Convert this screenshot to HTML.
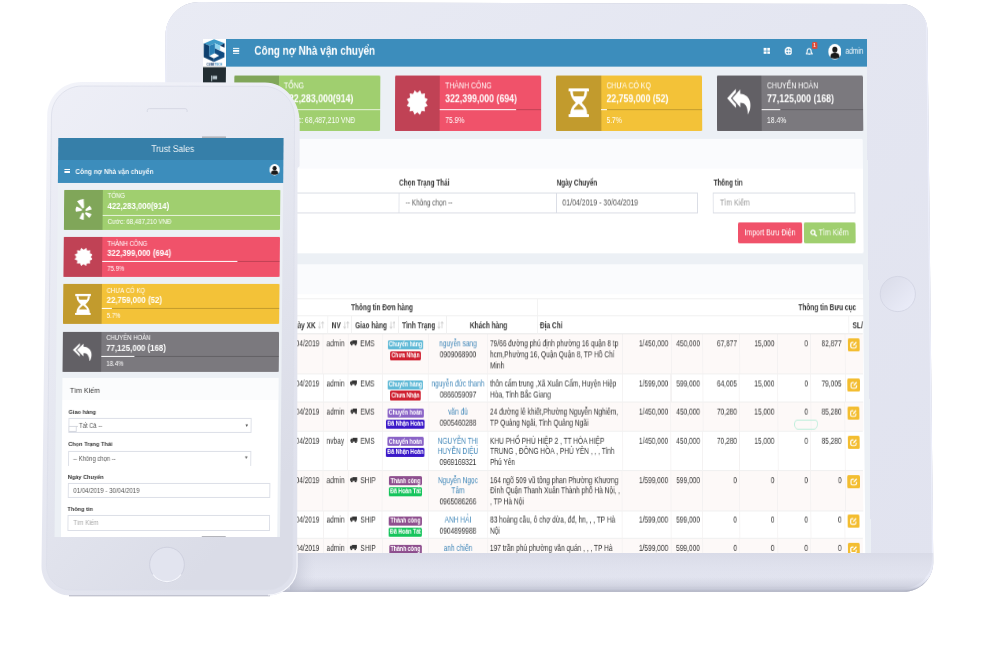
<!DOCTYPE html>
<html><head><meta charset="utf-8"><title>Trust Sales</title>
<style>
html,body{margin:0;padding:0;}
body{width:1000px;height:653px;background:#fff;position:relative;overflow:hidden;font-family:"Liberation Sans",sans-serif;}
div{box-sizing:border-box;}
svg{display:block;}
</style></head><body>
<svg style="position:absolute;left:0;top:0" width="1000" height="653" viewBox="0 0 1000 653">
<defs>
<clipPath id="tc"><path d="M165.61 35.00 C165.82 16.77 180.77 2.04 199.00 2.10 L901.20 4.12 C915.56 4.17 927.33 15.84 927.48 30.20 L933.27 561.80 C933.45 578.37 920.17 591.80 903.60 591.80 L189.00 591.80 C172.43 591.80 159.16 578.37 159.36 561.80 Z"/></clipPath>
<linearGradient id="tg" x1="0" y1="0" x2="1" y2="1">
<stop offset="0" stop-color="#e9ebf4"/><stop offset="0.45" stop-color="#e4e6f1"/><stop offset="1" stop-color="#e1e3ef"/>
</linearGradient>
<linearGradient id="tsh" x1="0" y1="0" x2="0" y2="1"><stop offset="0" stop-color="#d3d5e2" stop-opacity="1"/><stop offset="1" stop-color="#e2e4ee" stop-opacity="0"/></linearGradient>
<linearGradient id="tbot" x1="0" y1="0" x2="0" y2="1"><stop offset="0" stop-color="#b4b7c7" stop-opacity="0"/><stop offset="0.6" stop-color="#b4b7c7" stop-opacity="0.35"/><stop offset="1" stop-color="#b0b3c3" stop-opacity="0.95"/></linearGradient>
<linearGradient id="psh" x1="0" y1="0" x2="1" y2="0"><stop offset="0" stop-color="#b9bccb" stop-opacity="0.75"/><stop offset="1" stop-color="#d6d8e5" stop-opacity="0"/></linearGradient>
<linearGradient id="hb" x1="0" y1="0" x2="1" y2="1"><stop offset="0" stop-color="#d9dbe8"/><stop offset="1" stop-color="#eceefa"/></linearGradient>
</defs>
<path d="M165.61 35.00 C165.82 16.77 180.77 2.04 199.00 2.10 L901.20 4.12 C915.56 4.17 927.33 15.84 927.48 30.20 L933.27 561.80 C933.45 578.37 920.17 591.80 903.60 591.80 L189.00 591.80 C172.43 591.80 159.16 578.37 159.36 561.80 Z" fill="#b9bccb"/>
<g clip-path="url(#tc)"><path d="M165.61 35.00 C165.82 16.77 180.77 2.04 199.00 2.10 L901.20 4.12 C915.56 4.17 927.33 15.84 927.48 30.20 L933.27 561.80 C933.45 578.37 920.17 591.80 903.60 591.80 L189.00 591.80 C172.43 591.80 159.16 578.37 159.36 561.80 Z" transform="translate(0,-2.4)" fill="url(#tg)" stroke="#eceefa" stroke-width="2.6"/></g>
<g clip-path="url(#tc)"><rect x="150" y="553" width="800" height="30" fill="url(#tsh)" opacity="0.6"/><rect x="150" y="577" width="800" height="15" fill="url(#tbot)"/><rect x="290" y="553" width="26" height="40" fill="url(#psh)"/></g>
<circle cx="897.8" cy="294" r="17.6" fill="url(#hb)" stroke="#d3d5e3" stroke-width="0.9"/>
</svg>
<div style="position:absolute;left:0;top:0;width:850.00px;height:514.00px;overflow:hidden;background:#ecf0f5;transform-origin:0 0;transform:matrix3d(0.78,0,0,9.9104367e-21,-0.01432393,0.98559095,0,-2.6056142e-05,0,0,1,0,203.5,39,0,1);">
<div style="position:absolute;left:0.00px;top:0.00px;width:28.85px;height:514.00px;background:#222d32;"></div>
<div style="position:absolute;left:0.00px;top:0.00px;width:29.10px;height:28.56px;"><svg width="100%" height="100%" viewBox="0 0 430 545" preserveAspectRatio="none">
<rect width="430" height="545" fill="#fff"/>
<polygon points="10,85 200,5 400,80 315,130 220,85 110,130" fill="#3f9bc9"/>
<polygon points="10,85 110,130 110,330 200,375 200,445 10,355" fill="#0e3f6e"/>
<polygon points="110,130 220,85 220,275 200,280 110,330" fill="#2a7fb5"/>
<polygon points="220,85 315,130 315,215 220,180" fill="#8fd3ee"/>
<polygon points="315,130 400,80 400,165" fill="#0a2f5a"/>
<polygon points="220,180 400,265 400,355 200,445 200,375 300,325 220,275" fill="#114b80"/>
</svg></div>
<div style="position:absolute;left:14.26px;width:0;display:flex;justify-content:center;top:24.65px;height:3.60px;"><span style="white-space:nowrap;font-size:3.60px;line-height:1;color:#12396b;font-weight:bold;">CUBE<span style="color:#3f8fc4">TECH</span></span></div>
<div style="position:absolute;left:10.04px;top:37.36px;width:8.33px;height:5.66px;"><svg width="100%" height="100%" viewBox="0 0 10 10" preserveAspectRatio="none"><rect x="0" y="0" width="1.6" height="10" fill="#b8c7ce"/><rect x="2.6" y="0.6" width="7" height="6" fill="#b8c7ce"/></svg></div>
<div style="position:absolute;left:29.10px;top:0.00px;width:821.54px;height:27.95px;background:#3c8dbc;"></div>
<div style="position:absolute;left:38.17px;top:8.71px;width:8.20px;height:1.42px;background:#fff;"></div>
<div style="position:absolute;left:38.20px;top:11.25px;width:8.20px;height:1.42px;background:#fff;"></div>
<div style="position:absolute;left:38.22px;top:13.78px;width:8.20px;height:1.42px;background:#fff;"></div>
<div style="position:absolute;left:65.34px;top:6.44px;white-space:nowrap;font-size:12.80px;line-height:1;color:#fff;font-weight:bold;">Công nợ Nhà vận chuyển</div>
<div style="position:absolute;left:718.01px;top:9.12px;width:8.20px;height:6.28px;"><svg width="100%" height="100%" viewBox="0 0 10 10" preserveAspectRatio="none"><g fill="#fff"><rect x="0" y="0" width="4.4" height="4.4"/><rect x="5.6" y="0" width="4.4" height="4.4"/><rect x="0" y="5.6" width="4.4" height="4.4"/><rect x="5.6" y="5.6" width="4.4" height="4.4"/></g></svg></div>
<div style="position:absolute;left:744.68px;top:7.90px;width:9.74px;height:8.51px;"><svg width="100%" height="100%" viewBox="0 0 20 20" preserveAspectRatio="none"><circle cx="10" cy="10" r="8.2" fill="none" stroke="#fff" stroke-width="4"/><path d="M10 1v18M1 10h18" stroke="#fff" stroke-width="3"/></svg></div>
<div style="position:absolute;left:772.36px;top:8.71px;width:8.97px;height:7.70px;"><svg width="100%" height="100%" viewBox="0 0 20 22" preserveAspectRatio="none"><path d="M10 2 C5 2 4.5 7 4.5 10 C4.5 14 2.5 15 1.5 17 H18.5 C17.5 15 15.5 14 15.5 10 C15.5 7 15 2 10 2 Z" fill="none" stroke="#fff" stroke-width="3"/><circle cx="10" cy="19.5" r="2.4" fill="#fff"/></svg></div>
<div style="position:absolute;left:779.85px;top:3.04px;width:6.92px;height:6.89px;background:#dd4b39;border-radius:1.5px;"></div>
<div style="position:absolute;left:783.29px;width:0;display:flex;justify-content:center;top:3.76px;height:5.40px;"><span style="white-space:nowrap;font-size:5.40px;line-height:1;color:#fff;font-weight:bold;">1</span></div>
<div style="position:absolute;left:800.59px;top:5.07px;width:16.66px;height:15.80px;"><svg width="100%" height="100%" viewBox="0 0 30 30" preserveAspectRatio="none"><circle cx="15" cy="15" r="15" fill="#fff"/><circle cx="15" cy="11" r="5.8" fill="#1a1a1a"/><path d="M4.5 26 C4.5 18.5 9 17 15 17 C21 17 25.5 18.5 25.5 26 C22 29 8 29 4.5 26Z" fill="#1a1a1a"/></svg></div>
<div style="position:absolute;left:823.12px;top:7.94px;white-space:nowrap;font-size:8.30px;line-height:1;color:#fff;font-weight:normal;">admin</div>
<div style="position:absolute;left:39.50px;top:37.47px;width:187.00px;height:55.15px;background:#a0cf6f;border-radius:1.5px;"></div>
<div style="position:absolute;left:39.50px;top:37.47px;width:57.12px;height:55.15px;background:#80a659;border-radius:1.5px 0 0 1.5px;"></div>
<div style="position:absolute;left:54.99px;top:49.60px;width:25.61px;height:30.30px;"><svg width="100%" height="100%" viewBox="0 0 20 24" preserveAspectRatio="none"><g fill="#fff">
<path d="M2.200 2.600 Q5.800 0.400 10 0 L10.600 9.800 Q9.600 11.800 8.200 10.400 Z"/>
<path d="M0.600 11.500 Q1 9.500 2 8.600 L8 11.800 Q8.600 13.500 7 13.800 L1 14.500 Q0.400 13 0.600 11.500Z"/>
<path d="M12.500 11.600 L17 7.600 Q19 9.500 19.500 12 L13.200 13.600 Q11.500 13.200 12.500 11.600Z"/>
<path d="M13 15.200 L19.300 17 Q18.800 20 16.600 21.800 L12 17 Q11.600 15.300 13 15.200Z"/>
<path d="M8.600 15.800 Q10.300 15.600 10.500 17 L10.300 24 Q7.500 23.800 5.200 22.200 L8.600 15.800Z"/></g></svg></div>
<div style="position:absolute;left:103.59px;top:42.58px;white-space:nowrap;font-size:8.90px;line-height:1;color:#fff;font-weight:normal;">TỔNG</div>
<div style="position:absolute;left:103.70px;top:54.71px;white-space:nowrap;font-size:11.25px;line-height:1;color:#fff;font-weight:bold;">422,283,000(914)</div>
<div style="position:absolute;left:96.92px;top:70.62px;width:129.76px;height:1.41px;background:rgba(255,255,255,0.75);"></div>
<div style="position:absolute;left:103.91px;top:78.07px;white-space:nowrap;font-size:8.70px;line-height:1;color:#fff;font-weight:normal;">Cước: 68,487,210 VNĐ</div>
<div style="position:absolute;left:245.71px;top:37.47px;width:187.00px;height:55.15px;background:#f0526a;border-radius:1.5px;"></div>
<div style="position:absolute;left:245.71px;top:37.47px;width:57.38px;height:55.15px;background:#c04255;border-radius:1.5px 0 0 1.5px;"></div>
<div style="position:absolute;left:260.89px;top:51.93px;width:26.76px;height:24.65px;"><svg width="100%" height="100%" viewBox="0 0 20 20" preserveAspectRatio="none"><polygon points="12.59,0.34 13.85,3.33 17.07,2.93 16.67,6.15 19.66,7.41 17.70,10.00 19.66,12.59 16.67,13.85 17.07,17.07 13.85,16.67 12.59,19.66 10.00,17.70 7.41,19.66 6.15,16.67 2.93,17.07 3.33,13.85 0.34,12.59 2.30,10.00 0.34,7.41 3.33,6.15 2.93,2.93 6.15,3.33 7.41,0.34 10.00,2.30" fill="#fff" stroke="#fff" stroke-width="0.5" stroke-linejoin="round"/></svg></div>
<div style="position:absolute;left:310.02px;top:42.58px;white-space:nowrap;font-size:8.90px;line-height:1;color:#fff;font-weight:normal;">THÀNH CÔNG</div>
<div style="position:absolute;left:310.07px;top:54.71px;white-space:nowrap;font-size:11.25px;line-height:1;color:#fff;font-weight:bold;">322,399,000 (694)</div>
<div style="position:absolute;left:303.21px;top:70.62px;width:129.50px;height:1.41px;background:rgba(0,0,0,0.2);"></div>
<div style="position:absolute;left:303.21px;top:70.62px;width:98.29px;height:1.41px;background:#fff;"></div>
<div style="position:absolute;left:310.15px;top:78.07px;white-space:nowrap;font-size:8.70px;line-height:1;color:#fff;font-weight:normal;">75.9%</div>
<div style="position:absolute;left:452.43px;top:37.47px;width:186.48px;height:55.15px;background:#f3c238;border-radius:1.5px;"></div>
<div style="position:absolute;left:452.43px;top:37.47px;width:57.12px;height:55.15px;background:#c29b2d;border-radius:1.5px 0 0 1.5px;"></div>
<div style="position:absolute;left:467.53px;top:49.70px;width:25.99px;height:28.89px;"><svg width="100%" height="100%" viewBox="0 0 20 28" preserveAspectRatio="none"><g fill="#fff"><rect x="0" y="0" width="20" height="3" rx="0.6"/><rect x="0" y="25.200" width="20" height="2.800" rx="0.6"/>
<path d="M1.700 3 H18.300 C18.300 9 15 11.500 13 14 C15 16.500 18.300 19 18.300 25.200 H1.700 C1.700 19 5 16.500 7 14 C5 11.500 1.700 9 1.700 3 Z M4.200 3 H15.800 C15.700 5 15.300 6.500 14.800 7.700 H5.200 C4.700 6.500 4.300 5 4.200 3 Z M10 15 C11.500 16.500 14 18.500 15 20.800 H5 C6 18.500 8.500 16.500 10 15 Z" fill-rule="evenodd"/></g></svg></div>
<div style="position:absolute;left:516.46px;top:42.58px;white-space:nowrap;font-size:8.90px;line-height:1;color:#fff;font-weight:normal;">CHƯA CÓ KQ</div>
<div style="position:absolute;left:516.43px;top:54.71px;white-space:nowrap;font-size:11.25px;line-height:1;color:#fff;font-weight:bold;">22,759,000 (52)</div>
<div style="position:absolute;left:509.49px;top:70.62px;width:129.25px;height:1.41px;background:rgba(0,0,0,0.2);"></div>
<div style="position:absolute;left:509.49px;top:70.62px;width:7.37px;height:1.41px;background:#fff;"></div>
<div style="position:absolute;left:516.39px;top:78.07px;white-space:nowrap;font-size:8.70px;line-height:1;color:#fff;font-weight:normal;">5.7%</div>
<div style="position:absolute;left:658.12px;top:37.47px;width:187.00px;height:55.15px;background:#7b797e;border-radius:1.5px;"></div>
<div style="position:absolute;left:658.12px;top:37.47px;width:57.12px;height:55.15px;background:#626065;border-radius:1.5px 0 0 1.5px;"></div>
<div style="position:absolute;left:671.24px;top:50.11px;width:30.99px;height:26.47px;"><svg width="100%" height="100%" viewBox="0 0 24 26" preserveAspectRatio="none"><g fill="#fff">
<path d="M13 0.900 L5.200 9.800 L13 19 V14.200 C17.500 14.200 20 17 20.600 26 C24.500 19 24.500 6.200 13 5.400 Z"/>
<path d="M8.600 0.400 L0 9.800 L8.600 19.300 V15.600 L3.700 9.800 L8.600 4 Z"/></g></svg></div>
<div style="position:absolute;left:722.12px;top:42.58px;white-space:nowrap;font-size:8.90px;line-height:1;color:#fff;font-weight:normal;">CHUYỂN HOÀN</div>
<div style="position:absolute;left:722.03px;top:54.71px;white-space:nowrap;font-size:11.25px;line-height:1;color:#fff;font-weight:bold;">77,125,000 (168)</div>
<div style="position:absolute;left:715.01px;top:70.62px;width:129.76px;height:1.41px;background:rgba(0,0,0,0.2);"></div>
<div style="position:absolute;left:715.01px;top:70.62px;width:23.88px;height:1.41px;background:#fff;"></div>
<div style="position:absolute;left:721.86px;top:78.07px;white-space:nowrap;font-size:8.70px;line-height:1;color:#fff;font-weight:normal;">18.4%</div>
<div style="position:absolute;left:40.17px;top:101.09px;width:804.29px;height:114.60px;background:#fff;border-radius:2px;"></div>
<div style="position:absolute;left:40.17px;top:101.09px;width:804.29px;height:30.22px;background:#fafbfd;border-radius:2px 2px 0 0;"></div>
<div style="position:absolute;left:251.61px;top:141.63px;white-space:nowrap;font-size:8.15px;line-height:1;color:#333;font-weight:bold;">Chọn Trạng Thái</div>
<div style="position:absolute;left:452.66px;top:141.63px;white-space:nowrap;font-size:8.15px;line-height:1;color:#333;font-weight:bold;">Ngày Chuyển</div>
<div style="position:absolute;left:653.19px;top:141.63px;white-space:nowrap;font-size:8.15px;line-height:1;color:#333;font-weight:bold;">Thông tin</div>
<div style="position:absolute;left:50.83px;top:141.63px;white-space:nowrap;font-size:8.15px;line-height:1;color:#333;font-weight:bold;">Giao hàng</div>
<div style="position:absolute;left:50.95px;top:155.06px;width:201.11px;height:20.70px;border:1px solid #dadde5;background:#fff;"></div>
<div style="position:absolute;left:251.04px;top:155.06px;width:201.75px;height:20.70px;border:1px solid #dadde5;background:#fff;"></div>
<div style="position:absolute;left:451.76px;top:155.06px;width:181.19px;height:20.70px;border:1px solid #dadde5;background:#fff;"></div>
<div style="position:absolute;left:652.10px;top:155.06px;width:181.83px;height:20.70px;border:1px solid #dadde5;background:#fff;"></div>
<div style="position:absolute;left:58.69px;top:161.24px;white-space:nowrap;font-size:8.90px;line-height:1;color:#555;font-weight:normal;">-- Tất Cả --</div>
<div style="position:absolute;left:259.88px;top:161.24px;white-space:nowrap;font-size:8.90px;line-height:1;color:#555;font-weight:normal;transform:scaleX(0.930);transform-origin:0 0;">-- Không chọn --</div>
<div style="position:absolute;left:460.06px;top:161.24px;white-space:nowrap;font-size:8.90px;line-height:1;color:#555;font-weight:normal;">01/04/2019 - 30/04/2019</div>
<div style="position:absolute;left:661.26px;top:161.24px;white-space:nowrap;font-size:8.90px;line-height:1;color:#999;font-weight:normal;">Tìm Kiếm</div>
<div style="position:absolute;left:684.09px;top:184.99px;width:81.66px;height:20.67px;background:#f0526a;border-radius:1.8px;"></div>
<div style="position:absolute;left:724.87px;width:0;display:flex;justify-content:center;top:190.76px;height:8.90px;"><span style="white-space:nowrap;font-size:8.90px;line-height:1;color:#fff;font-weight:normal;">Import Bưu Điện</span></div>
<div style="position:absolute;left:768.30px;top:184.99px;width:65.32px;height:20.67px;background:#a0cf6f;border-radius:1.8px;"></div>
<div style="position:absolute;left:775.64px;top:191.82px;width:8.93px;height:7.42px;"><svg width="100%" height="100%" viewBox="0 0 20 20" preserveAspectRatio="none"><circle cx="8" cy="8" r="5.800" fill="none" stroke="#fff" stroke-width="3.4"/><path d="M12.500 12.500 L18.500 18.500" stroke="#fff" stroke-width="3.800" stroke-linecap="round"/></svg></div>
<div style="position:absolute;left:787.12px;top:190.76px;white-space:nowrap;font-size:8.90px;line-height:1;color:#fff;font-weight:normal;">Tìm Kiếm</div>
<div style="position:absolute;left:41.50px;top:227.21px;width:801.64px;height:293.70px;background:#fff;border-radius:2px 2px 0 0;"></div>
<div style="position:absolute;left:41.50px;top:227.21px;width:801.64px;height:30.12px;background:#fafbfd;border-radius:2px 2px 0 0;"></div>
<div style="position:absolute;left:41.85px;top:260.73px;width:800.93px;height:0.90px;background:#f0f0f0;"></div>
<div style="position:absolute;left:42.04px;top:278.32px;width:800.56px;height:0.90px;background:#f0f0f0;"></div>
<div style="position:absolute;left:42.23px;top:296.09px;width:800.19px;height:1.20px;background:#e8e8e8;"></div>
<div style="position:absolute;left:427.93px;top:261.13px;width:1.02px;height:35.56px;background:#f0f0f0;"></div>
<div style="position:absolute;left:230.35px;width:0;display:flex;justify-content:center;top:266.56px;height:8.25px;"><span style="white-space:nowrap;font-size:8.25px;line-height:1;color:#333;font-weight:bold;">Thông tin Đơn hàng</span></div>
<div style="position:absolute;right:16.20px;top:266.56px;white-space:nowrap;font-size:8.25px;line-height:1;color:#333;font-weight:bold;">Thông tin Bưu cục</div>
<div style="position:absolute;left:160.66px;top:278.72px;width:1.02px;height:17.97px;background:#f0f0f0;"></div>
<div style="position:absolute;left:191.21px;top:278.72px;width:1.02px;height:17.97px;background:#f0f0f0;"></div>
<div style="position:absolute;left:250.77px;top:278.72px;width:1.02px;height:17.97px;background:#f0f0f0;"></div>
<div style="position:absolute;left:312.12px;top:278.72px;width:1.02px;height:17.97px;background:#f0f0f0;"></div>
<div style="position:absolute;left:823.76px;top:278.72px;width:1.02px;height:17.97px;background:#f0f0f0;"></div>
<div style="position:absolute;right:704.06px;top:283.53px;white-space:nowrap;font-size:8.30px;line-height:1;color:#333;font-weight:bold;">Ngày XK</div>
<div style="position:absolute;left:148.74px;top:284.31px;width:7.89px;height:7.59px;"><svg width="100%" height="100%" viewBox="0 0 12 14" preserveAspectRatio="none"><g stroke="#cfcfcf" stroke-width="1.5" fill="none"><path d="M3 1 V13 M0.500 10 L3 13 L5.500 10"/><path d="M9 13 V1 M6.500 4 L9 1 L11.500 4"/></g></svg></div>
<div style="position:absolute;right:671.99px;top:283.53px;white-space:nowrap;font-size:8.30px;line-height:1;color:#333;font-weight:bold;">NV</div>
<div style="position:absolute;left:180.81px;top:284.31px;width:7.89px;height:7.59px;"><svg width="100%" height="100%" viewBox="0 0 12 14" preserveAspectRatio="none"><g stroke="#cfcfcf" stroke-width="1.5" fill="none"><path d="M3 1 V13 M0.500 10 L3 13 L5.500 10"/><path d="M9 13 V1 M6.500 4 L9 1 L11.500 4"/></g></svg></div>
<div style="position:absolute;right:613.20px;top:283.53px;white-space:nowrap;font-size:8.30px;line-height:1;color:#333;font-weight:bold;">Giao hàng</div>
<div style="position:absolute;left:239.60px;top:284.31px;width:7.89px;height:7.59px;"><svg width="100%" height="100%" viewBox="0 0 12 14" preserveAspectRatio="none"><g stroke="#cfcfcf" stroke-width="1.5" fill="none"><path d="M3 1 V13 M0.500 10 L3 13 L5.500 10"/><path d="M9 13 V1 M6.500 4 L9 1 L11.500 4"/></g></svg></div>
<div style="position:absolute;right:551.61px;top:283.53px;white-space:nowrap;font-size:8.30px;line-height:1;color:#333;font-weight:bold;">Tình Trạng</div>
<div style="position:absolute;left:301.19px;top:284.31px;width:7.89px;height:7.59px;"><svg width="100%" height="100%" viewBox="0 0 12 14" preserveAspectRatio="none"><g stroke="#cfcfcf" stroke-width="1.5" fill="none"><path d="M3 1 V13 M0.500 10 L3 13 L5.500 10"/><path d="M9 13 V1 M6.500 4 L9 1 L11.500 4"/></g></svg></div>
<div style="position:absolute;left:366.09px;width:0;display:flex;justify-content:center;top:283.53px;height:8.30px;"><span style="white-space:nowrap;font-size:8.30px;line-height:1;color:#333;font-weight:bold;">Khách hàng</span></div>
<div style="position:absolute;left:431.50px;top:283.53px;white-space:nowrap;font-size:8.30px;line-height:1;color:#333;font-weight:bold;">Địa Chỉ</div>
<div style="position:absolute;left:829.30px;top:283.53px;white-space:nowrap;font-size:8.30px;line-height:1;color:#333;font-weight:bold;">SL/</div>
<div style="position:absolute;left:42.23px;top:296.89px;width:800.17px;height:39.88px;background:#fdf9f8;"></div>
<div style="position:absolute;left:42.65px;top:336.37px;width:799.34px;height:0.80px;background:#f0f0f0;"></div>
<div style="position:absolute;left:155.45px;top:296.89px;width:1.02px;height:39.88px;background:#f3f1f1;"></div>
<div style="position:absolute;left:186.75px;top:296.89px;width:1.02px;height:39.88px;background:#f3f1f1;"></div>
<div style="position:absolute;left:230.51px;top:296.89px;width:1.02px;height:39.88px;background:#f3f1f1;"></div>
<div style="position:absolute;left:289.28px;top:296.89px;width:1.02px;height:39.88px;background:#f3f1f1;"></div>
<div style="position:absolute;left:364.34px;top:296.89px;width:1.02px;height:39.88px;background:#f3f1f1;"></div>
<div style="position:absolute;left:535.82px;top:296.89px;width:1.02px;height:39.88px;background:#f3f1f1;"></div>
<div style="position:absolute;left:597.65px;top:296.89px;width:1.02px;height:39.88px;background:#f3f1f1;"></div>
<div style="position:absolute;left:637.85px;top:296.89px;width:1.02px;height:39.88px;background:#f3f1f1;"></div>
<div style="position:absolute;left:684.66px;top:296.89px;width:1.02px;height:39.88px;background:#f3f1f1;"></div>
<div style="position:absolute;left:733.26px;top:296.89px;width:1.02px;height:39.88px;background:#f3f1f1;"></div>
<div style="position:absolute;left:775.24px;top:296.89px;width:1.02px;height:39.88px;background:#f3f1f1;"></div>
<div style="position:absolute;left:819.00px;top:296.89px;width:1.02px;height:39.88px;background:#f3f1f1;"></div>
<div style="position:absolute;right:699.08px;top:301.99px;white-space:nowrap;font-size:8.35px;line-height:1;color:#333;font-weight:normal;">30/04/2019</div>
<div style="position:absolute;left:160.08px;top:301.99px;white-space:nowrap;font-size:8.35px;line-height:1;color:#333;font-weight:normal;">admin</div>
<div style="position:absolute;left:190.10px;top:303.48px;width:8.90px;height:5.39px;"><svg width="100%" height="100%" viewBox="0 0 14 10" preserveAspectRatio="none"><g fill="#333"><rect x="4.500" y="0" width="9.500" height="7"/><path d="M0 7 V3.500 L2 1.200 H4.500 V7 Z"/><circle cx="3.200" cy="8" r="1.900"/><circle cx="10.800" cy="8" r="1.900"/></g></svg></div>
<div style="position:absolute;left:203.07px;top:301.99px;white-space:nowrap;font-size:8.35px;line-height:1;color:#333;font-weight:normal;">EMS</div>
<div style="position:absolute;left:237.54px;top:302.68px;width:45.79px;height:9.18px;background:#5fb9d6;border-radius:1.6px;"></div>
<div style="position:absolute;left:260.44px;width:0;display:flex;justify-content:center;top:304.00px;height:6.70px;"><span style="white-space:nowrap;font-size:6.70px;line-height:1;color:#fff;font-weight:bold;">Chuyển hàng</span></div>
<div style="position:absolute;left:240.78px;top:313.65px;width:39.42px;height:9.17px;background:#cf2030;border-radius:1.6px;"></div>
<div style="position:absolute;left:260.50px;width:0;display:flex;justify-content:center;top:314.97px;height:6.70px;"><span style="white-space:nowrap;font-size:6.70px;line-height:1;color:#fff;font-weight:bold;">Chưa Nhận</span></div>
<div style="position:absolute;left:327.21px;width:0;display:flex;justify-content:center;top:301.99px;height:8.35px;"><span style="white-space:nowrap;font-size:8.35px;line-height:1;color:#3f86b8;font-weight:normal;">nguyễn sang</span></div>
<div style="position:absolute;left:327.24px;width:0;display:flex;justify-content:center;top:312.76px;height:8.35px;"><span style="white-space:nowrap;font-size:8.35px;line-height:1;color:#333;font-weight:normal;">0909068900</span></div>
<div style="position:absolute;left:367.91px;top:301.99px;white-space:nowrap;font-size:8.35px;line-height:1;color:#333;font-weight:normal;">79/66 đường phú định phường 16 quận 8 tp</div>
<div style="position:absolute;left:367.93px;top:312.76px;white-space:nowrap;font-size:8.35px;line-height:1;color:#333;font-weight:normal;">hcm,Phường 16, Quận Quận 8, TP Hồ Chí</div>
<div style="position:absolute;left:367.96px;top:323.53px;white-space:nowrap;font-size:8.35px;line-height:1;color:#333;font-weight:normal;">Minh</div>
<div style="position:absolute;right:255.43px;top:301.99px;white-space:nowrap;font-size:8.35px;line-height:1;color:#333;font-weight:normal;">1/450,000</div>
<div style="position:absolute;right:214.98px;top:301.99px;white-space:nowrap;font-size:8.35px;line-height:1;color:#333;font-weight:normal;">450,000</div>
<div style="position:absolute;right:167.92px;top:301.99px;white-space:nowrap;font-size:8.35px;line-height:1;color:#333;font-weight:normal;">67,877</div>
<div style="position:absolute;right:120.35px;top:301.99px;white-space:nowrap;font-size:8.35px;line-height:1;color:#333;font-weight:normal;">15,000</div>
<div style="position:absolute;right:77.61px;top:301.99px;white-space:nowrap;font-size:8.35px;line-height:1;color:#333;font-weight:normal;">0</div>
<div style="position:absolute;right:34.88px;top:301.99px;white-space:nowrap;font-size:8.35px;line-height:1;color:#333;font-weight:normal;">82,877</div>
<div style="position:absolute;left:822.77px;top:301.28px;width:15.26px;height:12.97px;background:#f3bd30;border-radius:1.6px;"></div>
<div style="position:absolute;left:825.04px;top:303.28px;width:10.68px;height:8.98px;"><svg width="100%" height="100%" viewBox="0 0 12 12" preserveAspectRatio="none"><path d="M9.600 6.400 V8.300 Q9.600 10.400 7.500 10.400 H4.100 Q2 10.400 2 8.300 V4.900 Q2 2.800 4.100 2.800 H6" fill="none" stroke="#fff" stroke-width="1.600"/><path d="M5.200 7.300 L5.600 5.600 L9.300 1.700 L10.600 3 L6.900 6.900 Z" fill="#fff"/></svg></div>
<div style="position:absolute;left:42.95px;top:364.43px;width:798.75px;height:0.80px;background:#f0f0f0;"></div>
<div style="position:absolute;left:155.76px;top:336.77px;width:1.02px;height:28.06px;background:#f3f1f1;"></div>
<div style="position:absolute;left:187.02px;top:336.77px;width:1.02px;height:28.06px;background:#f3f1f1;"></div>
<div style="position:absolute;left:230.73px;top:336.77px;width:1.02px;height:28.06px;background:#f3f1f1;"></div>
<div style="position:absolute;left:289.44px;top:336.77px;width:1.02px;height:28.06px;background:#f3f1f1;"></div>
<div style="position:absolute;left:364.42px;top:336.77px;width:1.02px;height:28.06px;background:#f3f1f1;"></div>
<div style="position:absolute;left:535.73px;top:336.77px;width:1.02px;height:28.06px;background:#f3f1f1;"></div>
<div style="position:absolute;left:597.49px;top:336.77px;width:1.02px;height:28.06px;background:#f3f1f1;"></div>
<div style="position:absolute;left:637.64px;top:336.77px;width:1.02px;height:28.06px;background:#f3f1f1;"></div>
<div style="position:absolute;left:684.41px;top:336.77px;width:1.02px;height:28.06px;background:#f3f1f1;"></div>
<div style="position:absolute;left:732.95px;top:336.77px;width:1.02px;height:28.06px;background:#f3f1f1;"></div>
<div style="position:absolute;left:774.89px;top:336.77px;width:1.02px;height:28.06px;background:#f3f1f1;"></div>
<div style="position:absolute;left:818.61px;top:336.77px;width:1.02px;height:28.06px;background:#f3f1f1;"></div>
<div style="position:absolute;right:698.77px;top:341.86px;white-space:nowrap;font-size:8.35px;line-height:1;color:#333;font-weight:normal;">30/04/2019</div>
<div style="position:absolute;left:160.38px;top:341.86px;white-space:nowrap;font-size:8.35px;line-height:1;color:#333;font-weight:normal;">admin</div>
<div style="position:absolute;left:190.37px;top:343.34px;width:8.89px;height:5.38px;"><svg width="100%" height="100%" viewBox="0 0 14 10" preserveAspectRatio="none"><g fill="#333"><rect x="4.500" y="0" width="9.500" height="7"/><path d="M0 7 V3.500 L2 1.200 H4.500 V7 Z"/><circle cx="3.200" cy="8" r="1.900"/><circle cx="10.800" cy="8" r="1.900"/></g></svg></div>
<div style="position:absolute;left:203.32px;top:341.86px;white-space:nowrap;font-size:8.35px;line-height:1;color:#333;font-weight:normal;">EMS</div>
<div style="position:absolute;left:237.75px;top:342.54px;width:45.74px;height:9.16px;background:#5fb9d6;border-radius:1.6px;"></div>
<div style="position:absolute;left:260.64px;width:0;display:flex;justify-content:center;top:343.86px;height:6.70px;"><span style="white-space:nowrap;font-size:6.70px;line-height:1;color:#fff;font-weight:bold;">Chuyển hàng</span></div>
<div style="position:absolute;left:240.99px;top:353.49px;width:39.38px;height:9.15px;background:#cf2030;border-radius:1.6px;"></div>
<div style="position:absolute;left:260.69px;width:0;display:flex;justify-content:center;top:354.81px;height:6.70px;"><span style="white-space:nowrap;font-size:6.70px;line-height:1;color:#fff;font-weight:bold;">Chưa Nhận</span></div>
<div style="position:absolute;left:327.33px;width:0;display:flex;justify-content:center;top:341.86px;height:8.35px;"><span style="white-space:nowrap;font-size:8.35px;line-height:1;color:#3f86b8;font-weight:normal;">nguyễn đức thanh</span></div>
<div style="position:absolute;left:327.37px;width:0;display:flex;justify-content:center;top:352.61px;height:8.35px;"><span style="white-space:nowrap;font-size:8.35px;line-height:1;color:#333;font-weight:normal;">0866059097</span></div>
<div style="position:absolute;left:367.99px;top:341.86px;white-space:nowrap;font-size:8.35px;line-height:1;color:#333;font-weight:normal;">thôn cẩm trung ,Xã Xuân Cẩm, Huyện Hiệp</div>
<div style="position:absolute;left:368.01px;top:352.61px;white-space:nowrap;font-size:8.35px;line-height:1;color:#333;font-weight:normal;">Hòa, Tỉnh Bắc Giang</div>
<div style="position:absolute;right:255.59px;top:341.86px;white-space:nowrap;font-size:8.35px;line-height:1;color:#333;font-weight:normal;">1/599,000</div>
<div style="position:absolute;right:215.18px;top:341.86px;white-space:nowrap;font-size:8.35px;line-height:1;color:#333;font-weight:normal;">599,000</div>
<div style="position:absolute;right:168.17px;top:341.86px;white-space:nowrap;font-size:8.35px;line-height:1;color:#333;font-weight:normal;">64,005</div>
<div style="position:absolute;right:120.65px;top:341.86px;white-space:nowrap;font-size:8.35px;line-height:1;color:#333;font-weight:normal;">15,000</div>
<div style="position:absolute;right:77.96px;top:341.86px;white-space:nowrap;font-size:8.35px;line-height:1;color:#333;font-weight:normal;">0</div>
<div style="position:absolute;right:35.27px;top:341.86px;white-space:nowrap;font-size:8.35px;line-height:1;color:#333;font-weight:normal;">79,005</div>
<div style="position:absolute;left:822.37px;top:341.15px;width:15.25px;height:12.94px;background:#f3bd30;border-radius:1.6px;"></div>
<div style="position:absolute;left:824.64px;top:343.14px;width:10.67px;height:8.96px;"><svg width="100%" height="100%" viewBox="0 0 12 12" preserveAspectRatio="none"><path d="M9.600 6.400 V8.300 Q9.600 10.400 7.500 10.400 H4.100 Q2 10.400 2 8.300 V4.900 Q2 2.800 4.100 2.800 H6" fill="none" stroke="#fff" stroke-width="1.600"/><path d="M5.200 7.300 L5.600 5.600 L9.300 1.700 L10.600 3 L6.900 6.900 Z" fill="#fff"/></svg></div>
<div style="position:absolute;left:42.95px;top:364.83px;width:798.74px;height:28.62px;background:#fdf9f8;"></div>
<div style="position:absolute;left:43.25px;top:393.05px;width:798.15px;height:0.79px;background:#f0f0f0;"></div>
<div style="position:absolute;left:155.97px;top:364.83px;width:1.02px;height:28.62px;background:#f3f1f1;"></div>
<div style="position:absolute;left:187.21px;top:364.83px;width:1.02px;height:28.62px;background:#f3f1f1;"></div>
<div style="position:absolute;left:230.89px;top:364.83px;width:1.02px;height:28.62px;background:#f3f1f1;"></div>
<div style="position:absolute;left:289.56px;top:364.83px;width:1.02px;height:28.62px;background:#f3f1f1;"></div>
<div style="position:absolute;left:364.48px;top:364.83px;width:1.02px;height:28.62px;background:#f3f1f1;"></div>
<div style="position:absolute;left:535.66px;top:364.83px;width:1.02px;height:28.62px;background:#f3f1f1;"></div>
<div style="position:absolute;left:597.37px;top:364.83px;width:1.02px;height:28.62px;background:#f3f1f1;"></div>
<div style="position:absolute;left:637.50px;top:364.83px;width:1.02px;height:28.62px;background:#f3f1f1;"></div>
<div style="position:absolute;left:684.23px;top:364.83px;width:1.02px;height:28.62px;background:#f3f1f1;"></div>
<div style="position:absolute;left:732.74px;top:364.83px;width:1.02px;height:28.62px;background:#f3f1f1;"></div>
<div style="position:absolute;left:774.65px;top:364.83px;width:1.02px;height:28.62px;background:#f3f1f1;"></div>
<div style="position:absolute;left:818.33px;top:364.83px;width:1.02px;height:28.62px;background:#f3f1f1;"></div>
<div style="position:absolute;right:698.56px;top:369.91px;white-space:nowrap;font-size:8.35px;line-height:1;color:#333;font-weight:normal;">30/04/2019</div>
<div style="position:absolute;left:160.59px;top:369.91px;white-space:nowrap;font-size:8.35px;line-height:1;color:#333;font-weight:normal;">admin</div>
<div style="position:absolute;left:190.55px;top:371.39px;width:8.89px;height:5.37px;"><svg width="100%" height="100%" viewBox="0 0 14 10" preserveAspectRatio="none"><g fill="#333"><rect x="4.500" y="0" width="9.500" height="7"/><path d="M0 7 V3.500 L2 1.200 H4.500 V7 Z"/><circle cx="3.200" cy="8" r="1.900"/><circle cx="10.800" cy="8" r="1.900"/></g></svg></div>
<div style="position:absolute;left:203.50px;top:369.91px;white-space:nowrap;font-size:8.35px;line-height:1;color:#333;font-weight:normal;">EMS</div>
<div style="position:absolute;left:237.91px;top:370.60px;width:45.71px;height:9.14px;background:#8a63c6;border-radius:1.6px;"></div>
<div style="position:absolute;left:260.77px;width:0;display:flex;justify-content:center;top:371.91px;height:6.70px;"><span style="white-space:nowrap;font-size:6.70px;line-height:1;color:#fff;font-weight:bold;">Chuyển hoàn</span></div>
<div style="position:absolute;left:236.32px;top:381.53px;width:49.00px;height:9.14px;background:#3a18c8;border-radius:1.6px;"></div>
<div style="position:absolute;left:260.82px;width:0;display:flex;justify-content:center;top:382.84px;height:6.70px;"><span style="white-space:nowrap;font-size:6.70px;line-height:1;color:#fff;font-weight:bold;">Đã Nhận Hoàn</span></div>
<div style="position:absolute;left:327.42px;width:0;display:flex;justify-content:center;top:369.91px;height:8.35px;"><span style="white-space:nowrap;font-size:8.35px;line-height:1;color:#3f86b8;font-weight:normal;">văn đủ</span></div>
<div style="position:absolute;left:327.45px;width:0;display:flex;justify-content:center;top:380.64px;height:8.35px;"><span style="white-space:nowrap;font-size:8.35px;line-height:1;color:#333;font-weight:normal;">0905460288</span></div>
<div style="position:absolute;left:368.05px;top:369.91px;white-space:nowrap;font-size:8.35px;line-height:1;color:#333;font-weight:normal;">24 đường lê khiết,Phường Nguyễn Nghiêm,</div>
<div style="position:absolute;left:368.07px;top:380.64px;white-space:nowrap;font-size:8.35px;line-height:1;color:#333;font-weight:normal;">TP Quảng Ngãi, Tỉnh Quảng Ngãi</div>
<div style="position:absolute;right:255.70px;top:369.91px;white-space:nowrap;font-size:8.35px;line-height:1;color:#333;font-weight:normal;">1/450,000</div>
<div style="position:absolute;right:215.32px;top:369.91px;white-space:nowrap;font-size:8.35px;line-height:1;color:#333;font-weight:normal;">450,000</div>
<div style="position:absolute;right:168.35px;top:369.91px;white-space:nowrap;font-size:8.35px;line-height:1;color:#333;font-weight:normal;">70,280</div>
<div style="position:absolute;right:120.86px;top:369.91px;white-space:nowrap;font-size:8.35px;line-height:1;color:#333;font-weight:normal;">15,000</div>
<div style="position:absolute;right:78.20px;top:369.91px;white-space:nowrap;font-size:8.35px;line-height:1;color:#333;font-weight:normal;">0</div>
<div style="position:absolute;right:35.54px;top:369.91px;white-space:nowrap;font-size:8.35px;line-height:1;color:#333;font-weight:normal;">85,280</div>
<div style="position:absolute;left:822.10px;top:369.21px;width:15.24px;height:12.92px;background:#f3bd30;border-radius:1.6px;"></div>
<div style="position:absolute;left:824.36px;top:371.19px;width:10.67px;height:8.94px;"><svg width="100%" height="100%" viewBox="0 0 12 12" preserveAspectRatio="none"><path d="M9.600 6.400 V8.300 Q9.600 10.400 7.500 10.400 H4.100 Q2 10.400 2 8.300 V4.900 Q2 2.800 4.100 2.800 H6" fill="none" stroke="#fff" stroke-width="1.600"/><path d="M5.200 7.300 L5.600 5.600 L9.300 1.700 L10.600 3 L6.900 6.900 Z" fill="#fff"/></svg></div>
<div style="position:absolute;left:43.66px;top:432.13px;width:797.33px;height:0.79px;background:#f0f0f0;"></div>
<div style="position:absolute;left:156.19px;top:393.45px;width:1.02px;height:39.08px;background:#f3f1f1;"></div>
<div style="position:absolute;left:187.40px;top:393.45px;width:1.02px;height:39.08px;background:#f3f1f1;"></div>
<div style="position:absolute;left:231.05px;top:393.45px;width:1.02px;height:39.08px;background:#f3f1f1;"></div>
<div style="position:absolute;left:289.67px;top:393.45px;width:1.02px;height:39.08px;background:#f3f1f1;"></div>
<div style="position:absolute;left:364.54px;top:393.45px;width:1.02px;height:39.08px;background:#f3f1f1;"></div>
<div style="position:absolute;left:535.59px;top:393.45px;width:1.02px;height:39.08px;background:#f3f1f1;"></div>
<div style="position:absolute;left:597.26px;top:393.45px;width:1.02px;height:39.08px;background:#f3f1f1;"></div>
<div style="position:absolute;left:637.36px;top:393.45px;width:1.02px;height:39.08px;background:#f3f1f1;"></div>
<div style="position:absolute;left:684.05px;top:393.45px;width:1.02px;height:39.08px;background:#f3f1f1;"></div>
<div style="position:absolute;left:732.52px;top:393.45px;width:1.02px;height:39.08px;background:#f3f1f1;"></div>
<div style="position:absolute;left:774.40px;top:393.45px;width:1.02px;height:39.08px;background:#f3f1f1;"></div>
<div style="position:absolute;left:818.05px;top:393.45px;width:1.02px;height:39.08px;background:#f3f1f1;"></div>
<div style="position:absolute;right:698.34px;top:398.52px;white-space:nowrap;font-size:8.35px;line-height:1;color:#333;font-weight:normal;">30/04/2019</div>
<div style="position:absolute;left:160.80px;top:398.52px;white-space:nowrap;font-size:8.35px;line-height:1;color:#333;font-weight:normal;">nvbay</div>
<div style="position:absolute;left:190.74px;top:400.00px;width:8.88px;height:5.36px;"><svg width="100%" height="100%" viewBox="0 0 14 10" preserveAspectRatio="none"><g fill="#333"><rect x="4.500" y="0" width="9.500" height="7"/><path d="M0 7 V3.500 L2 1.200 H4.500 V7 Z"/><circle cx="3.200" cy="8" r="1.900"/><circle cx="10.800" cy="8" r="1.900"/></g></svg></div>
<div style="position:absolute;left:203.68px;top:398.52px;white-space:nowrap;font-size:8.35px;line-height:1;color:#333;font-weight:normal;">EMS</div>
<div style="position:absolute;left:238.06px;top:399.21px;width:45.67px;height:9.13px;background:#8a63c6;border-radius:1.6px;"></div>
<div style="position:absolute;left:260.91px;width:0;display:flex;justify-content:center;top:400.52px;height:6.70px;"><span style="white-space:nowrap;font-size:6.70px;line-height:1;color:#fff;font-weight:bold;">Chuyển hoàn</span></div>
<div style="position:absolute;left:236.47px;top:410.12px;width:48.96px;height:9.12px;background:#3a18c8;border-radius:1.6px;"></div>
<div style="position:absolute;left:260.96px;width:0;display:flex;justify-content:center;top:411.43px;height:6.70px;"><span style="white-space:nowrap;font-size:6.70px;line-height:1;color:#fff;font-weight:bold;">Đã Nhận Hoàn</span></div>
<div style="position:absolute;left:327.51px;width:0;display:flex;justify-content:center;top:398.52px;height:8.35px;"><span style="white-space:nowrap;font-size:8.35px;line-height:1;color:#3f86b8;font-weight:normal;">NGUYỄN THỊ</span></div>
<div style="position:absolute;left:327.54px;width:0;display:flex;justify-content:center;top:409.23px;height:8.35px;"><span style="white-space:nowrap;font-size:8.35px;line-height:1;color:#3f86b8;font-weight:normal;">HUYỀN DIỆU</span></div>
<div style="position:absolute;left:327.57px;width:0;display:flex;justify-content:center;top:419.95px;height:8.35px;"><span style="white-space:nowrap;font-size:8.35px;line-height:1;color:#333;font-weight:normal;">0969169321</span></div>
<div style="position:absolute;left:368.11px;top:398.52px;white-space:nowrap;font-size:8.35px;line-height:1;color:#333;font-weight:normal;">KHU PHỐ PHÚ HIỆP 2 , TT HÒA HIỆP</div>
<div style="position:absolute;left:368.13px;top:409.23px;white-space:nowrap;font-size:8.35px;line-height:1;color:#333;font-weight:normal;">TRUNG , ĐÔNG HÒA , PHÚ YÊN , , , Tỉnh</div>
<div style="position:absolute;left:368.15px;top:419.95px;white-space:nowrap;font-size:8.35px;line-height:1;color:#333;font-weight:normal;">Phú Yên</div>
<div style="position:absolute;right:255.81px;top:398.52px;white-space:nowrap;font-size:8.35px;line-height:1;color:#333;font-weight:normal;">1/450,000</div>
<div style="position:absolute;right:215.47px;top:398.52px;white-space:nowrap;font-size:8.35px;line-height:1;color:#333;font-weight:normal;">450,000</div>
<div style="position:absolute;right:168.53px;top:398.52px;white-space:nowrap;font-size:8.35px;line-height:1;color:#333;font-weight:normal;">70,280</div>
<div style="position:absolute;right:121.08px;top:398.52px;white-space:nowrap;font-size:8.35px;line-height:1;color:#333;font-weight:normal;">15,000</div>
<div style="position:absolute;right:78.45px;top:398.52px;white-space:nowrap;font-size:8.35px;line-height:1;color:#333;font-weight:normal;">0</div>
<div style="position:absolute;right:35.82px;top:398.52px;white-space:nowrap;font-size:8.35px;line-height:1;color:#333;font-weight:normal;">85,280</div>
<div style="position:absolute;left:821.81px;top:397.82px;width:15.23px;height:12.90px;background:#f3bd30;border-radius:1.6px;"></div>
<div style="position:absolute;left:824.07px;top:399.80px;width:10.66px;height:8.93px;"><svg width="100%" height="100%" viewBox="0 0 12 12" preserveAspectRatio="none"><path d="M9.600 6.400 V8.300 Q9.600 10.400 7.500 10.400 H4.100 Q2 10.400 2 8.300 V4.900 Q2 2.800 4.100 2.800 H6" fill="none" stroke="#fff" stroke-width="1.600"/><path d="M5.200 7.300 L5.600 5.600 L9.300 1.700 L10.600 3 L6.900 6.900 Z" fill="#fff"/></svg></div>
<div style="position:absolute;left:43.66px;top:432.53px;width:797.32px;height:39.40px;background:#fdf9f8;"></div>
<div style="position:absolute;left:44.08px;top:471.53px;width:796.50px;height:0.79px;background:#f0f0f0;"></div>
<div style="position:absolute;left:156.48px;top:432.53px;width:1.01px;height:39.40px;background:#f3f1f1;"></div>
<div style="position:absolute;left:187.66px;top:432.53px;width:1.01px;height:39.40px;background:#f3f1f1;"></div>
<div style="position:absolute;left:231.27px;top:432.53px;width:1.01px;height:39.40px;background:#f3f1f1;"></div>
<div style="position:absolute;left:289.83px;top:432.53px;width:1.01px;height:39.40px;background:#f3f1f1;"></div>
<div style="position:absolute;left:364.62px;top:432.53px;width:1.01px;height:39.40px;background:#f3f1f1;"></div>
<div style="position:absolute;left:535.49px;top:432.53px;width:1.01px;height:39.40px;background:#f3f1f1;"></div>
<div style="position:absolute;left:597.10px;top:432.53px;width:1.01px;height:39.40px;background:#f3f1f1;"></div>
<div style="position:absolute;left:637.16px;top:432.53px;width:1.01px;height:39.40px;background:#f3f1f1;"></div>
<div style="position:absolute;left:683.80px;top:432.53px;width:1.01px;height:39.40px;background:#f3f1f1;"></div>
<div style="position:absolute;left:732.23px;top:432.53px;width:1.01px;height:39.40px;background:#f3f1f1;"></div>
<div style="position:absolute;left:774.06px;top:432.53px;width:1.01px;height:39.40px;background:#f3f1f1;"></div>
<div style="position:absolute;left:817.66px;top:432.53px;width:1.01px;height:39.40px;background:#f3f1f1;"></div>
<div style="position:absolute;right:698.03px;top:437.59px;white-space:nowrap;font-size:8.35px;line-height:1;color:#333;font-weight:normal;">30/04/2019</div>
<div style="position:absolute;left:161.09px;top:437.59px;white-space:nowrap;font-size:8.35px;line-height:1;color:#333;font-weight:normal;">admin</div>
<div style="position:absolute;left:191.00px;top:439.07px;width:8.87px;height:5.35px;"><svg width="100%" height="100%" viewBox="0 0 14 10" preserveAspectRatio="none"><g fill="#333"><rect x="4.500" y="0" width="9.500" height="7"/><path d="M0 7 V3.500 L2 1.200 H4.500 V7 Z"/><circle cx="3.200" cy="8" r="1.900"/><circle cx="10.800" cy="8" r="1.900"/></g></svg></div>
<div style="position:absolute;left:203.93px;top:437.59px;white-space:nowrap;font-size:8.35px;line-height:1;color:#333;font-weight:normal;">SHIP</div>
<div style="position:absolute;left:240.17px;top:438.27px;width:41.82px;height:9.11px;background:#8e4f8e;border-radius:1.6px;"></div>
<div style="position:absolute;left:261.10px;width:0;display:flex;justify-content:center;top:439.58px;height:6.70px;"><span style="white-space:nowrap;font-size:6.70px;line-height:1;color:#fff;font-weight:bold;">Thành công</span></div>
<div style="position:absolute;left:239.98px;top:449.17px;width:42.32px;height:9.11px;background:#16c45c;border-radius:1.6px;"></div>
<div style="position:absolute;left:261.15px;width:0;display:flex;justify-content:center;top:450.47px;height:6.70px;"><span style="white-space:nowrap;font-size:6.70px;line-height:1;color:#fff;font-weight:bold;">Đã Hoàn Tất</span></div>
<div style="position:absolute;left:327.63px;width:0;display:flex;justify-content:center;top:437.59px;height:8.35px;"><span style="white-space:nowrap;font-size:8.35px;line-height:1;color:#3f86b8;font-weight:normal;">Nguyễn Ngọc</span></div>
<div style="position:absolute;left:327.66px;width:0;display:flex;justify-content:center;top:448.28px;height:8.35px;"><span style="white-space:nowrap;font-size:8.35px;line-height:1;color:#3f86b8;font-weight:normal;">Tâm</span></div>
<div style="position:absolute;left:327.69px;width:0;display:flex;justify-content:center;top:458.97px;height:8.35px;"><span style="white-space:nowrap;font-size:8.35px;line-height:1;color:#333;font-weight:normal;">0965086266</span></div>
<div style="position:absolute;left:368.18px;top:437.59px;white-space:nowrap;font-size:8.35px;line-height:1;color:#333;font-weight:normal;">164 ngõ 509 vũ tông phan Phường Khương</div>
<div style="position:absolute;left:368.20px;top:448.28px;white-space:nowrap;font-size:8.35px;line-height:1;color:#333;font-weight:normal;">Đình Quận Thanh Xuân Thành phố Hà Nội, ,</div>
<div style="position:absolute;left:368.23px;top:458.97px;white-space:nowrap;font-size:8.35px;line-height:1;color:#333;font-weight:normal;">, TP Hà Nội</div>
<div style="position:absolute;right:255.97px;top:437.59px;white-space:nowrap;font-size:8.35px;line-height:1;color:#333;font-weight:normal;">1/599,000</div>
<div style="position:absolute;right:215.66px;top:437.59px;white-space:nowrap;font-size:8.35px;line-height:1;color:#333;font-weight:normal;">599,000</div>
<div style="position:absolute;right:168.77px;top:437.59px;white-space:nowrap;font-size:8.35px;line-height:1;color:#333;font-weight:normal;">0</div>
<div style="position:absolute;right:121.37px;top:437.59px;white-space:nowrap;font-size:8.35px;line-height:1;color:#333;font-weight:normal;">0</div>
<div style="position:absolute;right:78.78px;top:437.59px;white-space:nowrap;font-size:8.35px;line-height:1;color:#333;font-weight:normal;">0</div>
<div style="position:absolute;right:36.20px;top:437.59px;white-space:nowrap;font-size:8.35px;line-height:1;color:#333;font-weight:normal;">0</div>
<div style="position:absolute;left:821.42px;top:436.89px;width:15.21px;height:12.87px;background:#f3bd30;border-radius:1.6px;"></div>
<div style="position:absolute;left:823.68px;top:438.87px;width:10.65px;height:8.91px;"><svg width="100%" height="100%" viewBox="0 0 12 12" preserveAspectRatio="none"><path d="M9.600 6.400 V8.300 Q9.600 10.400 7.500 10.400 H4.100 Q2 10.400 2 8.300 V4.900 Q2 2.800 4.100 2.800 H6" fill="none" stroke="#fff" stroke-width="1.600"/><path d="M5.200 7.300 L5.600 5.600 L9.300 1.700 L10.600 3 L6.900 6.900 Z" fill="#fff"/></svg></div>
<div style="position:absolute;left:44.37px;top:499.39px;width:795.92px;height:0.79px;background:#f0f0f0;"></div>
<div style="position:absolute;left:156.78px;top:471.92px;width:1.01px;height:27.86px;background:#f3f1f1;"></div>
<div style="position:absolute;left:187.93px;top:471.92px;width:1.01px;height:27.86px;background:#f3f1f1;"></div>
<div style="position:absolute;left:231.49px;top:471.92px;width:1.01px;height:27.86px;background:#f3f1f1;"></div>
<div style="position:absolute;left:289.99px;top:471.92px;width:1.01px;height:27.86px;background:#f3f1f1;"></div>
<div style="position:absolute;left:364.70px;top:471.92px;width:1.01px;height:27.86px;background:#f3f1f1;"></div>
<div style="position:absolute;left:535.40px;top:471.92px;width:1.01px;height:27.86px;background:#f3f1f1;"></div>
<div style="position:absolute;left:596.94px;top:471.92px;width:1.01px;height:27.86px;background:#f3f1f1;"></div>
<div style="position:absolute;left:636.96px;top:471.92px;width:1.01px;height:27.86px;background:#f3f1f1;"></div>
<div style="position:absolute;left:683.55px;top:471.92px;width:1.01px;height:27.86px;background:#f3f1f1;"></div>
<div style="position:absolute;left:731.93px;top:471.92px;width:1.01px;height:27.86px;background:#f3f1f1;"></div>
<div style="position:absolute;left:773.71px;top:471.92px;width:1.01px;height:27.86px;background:#f3f1f1;"></div>
<div style="position:absolute;left:817.27px;top:471.92px;width:1.01px;height:27.86px;background:#f3f1f1;"></div>
<div style="position:absolute;right:697.73px;top:476.97px;white-space:nowrap;font-size:8.35px;line-height:1;color:#333;font-weight:normal;">30/04/2019</div>
<div style="position:absolute;left:161.38px;top:476.97px;white-space:nowrap;font-size:8.35px;line-height:1;color:#333;font-weight:normal;">admin</div>
<div style="position:absolute;left:191.27px;top:478.45px;width:8.86px;height:5.34px;"><svg width="100%" height="100%" viewBox="0 0 14 10" preserveAspectRatio="none"><g fill="#333"><rect x="4.500" y="0" width="9.500" height="7"/><path d="M0 7 V3.500 L2 1.200 H4.500 V7 Z"/><circle cx="3.200" cy="8" r="1.900"/><circle cx="10.800" cy="8" r="1.900"/></g></svg></div>
<div style="position:absolute;left:204.18px;top:476.97px;white-space:nowrap;font-size:8.35px;line-height:1;color:#333;font-weight:normal;">SHIP</div>
<div style="position:absolute;left:240.39px;top:477.66px;width:41.78px;height:9.09px;background:#8e4f8e;border-radius:1.6px;"></div>
<div style="position:absolute;left:261.29px;width:0;display:flex;justify-content:center;top:478.96px;height:6.70px;"><span style="white-space:nowrap;font-size:6.70px;line-height:1;color:#fff;font-weight:bold;">Thành công</span></div>
<div style="position:absolute;left:240.19px;top:488.53px;width:42.28px;height:9.09px;background:#16c45c;border-radius:1.6px;"></div>
<div style="position:absolute;left:261.34px;width:0;display:flex;justify-content:center;top:489.83px;height:6.70px;"><span style="white-space:nowrap;font-size:6.70px;line-height:1;color:#fff;font-weight:bold;">Đã Hoàn Tất</span></div>
<div style="position:absolute;left:327.75px;width:0;display:flex;justify-content:center;top:476.97px;height:8.35px;"><span style="white-space:nowrap;font-size:8.35px;line-height:1;color:#3f86b8;font-weight:normal;">ANH HẢI</span></div>
<div style="position:absolute;left:327.78px;width:0;display:flex;justify-content:center;top:487.64px;height:8.35px;"><span style="white-space:nowrap;font-size:8.35px;line-height:1;color:#333;font-weight:normal;">0904899988</span></div>
<div style="position:absolute;left:368.26px;top:476.97px;white-space:nowrap;font-size:8.35px;line-height:1;color:#333;font-weight:normal;">83 hoàng cầu, ô chợ dừa, đđ, hn, , , TP Hà</div>
<div style="position:absolute;left:368.28px;top:487.64px;white-space:nowrap;font-size:8.35px;line-height:1;color:#333;font-weight:normal;">Nội</div>
<div style="position:absolute;right:256.12px;top:476.97px;white-space:nowrap;font-size:8.35px;line-height:1;color:#333;font-weight:normal;">1/599,000</div>
<div style="position:absolute;right:215.86px;top:476.97px;white-space:nowrap;font-size:8.35px;line-height:1;color:#333;font-weight:normal;">599,000</div>
<div style="position:absolute;right:169.02px;top:476.97px;white-space:nowrap;font-size:8.35px;line-height:1;color:#333;font-weight:normal;">0</div>
<div style="position:absolute;right:121.66px;top:476.97px;white-space:nowrap;font-size:8.35px;line-height:1;color:#333;font-weight:normal;">0</div>
<div style="position:absolute;right:79.12px;top:476.97px;white-space:nowrap;font-size:8.35px;line-height:1;color:#333;font-weight:normal;">0</div>
<div style="position:absolute;right:36.58px;top:476.97px;white-space:nowrap;font-size:8.35px;line-height:1;color:#333;font-weight:normal;">0</div>
<div style="position:absolute;left:821.03px;top:476.27px;width:15.19px;height:12.85px;background:#f3bd30;border-radius:1.6px;"></div>
<div style="position:absolute;left:823.29px;top:478.25px;width:10.64px;height:8.89px;"><svg width="100%" height="100%" viewBox="0 0 12 12" preserveAspectRatio="none"><path d="M9.600 6.400 V8.300 Q9.600 10.400 7.500 10.400 H4.100 Q2 10.400 2 8.300 V4.900 Q2 2.800 4.100 2.800 H6" fill="none" stroke="#fff" stroke-width="1.600"/><path d="M5.200 7.300 L5.600 5.600 L9.300 1.700 L10.600 3 L6.900 6.900 Z" fill="#fff"/></svg></div>
<div style="position:absolute;left:44.37px;top:499.79px;width:795.91px;height:29.01px;background:#fdf9f8;"></div>
<div style="position:absolute;left:44.68px;top:528.40px;width:795.31px;height:0.79px;background:#f0f0f0;"></div>
<div style="position:absolute;left:156.99px;top:499.79px;width:1.01px;height:29.01px;background:#f3f1f1;"></div>
<div style="position:absolute;left:188.12px;top:499.79px;width:1.01px;height:29.01px;background:#f3f1f1;"></div>
<div style="position:absolute;left:231.65px;top:499.79px;width:1.01px;height:29.01px;background:#f3f1f1;"></div>
<div style="position:absolute;left:290.11px;top:499.79px;width:1.01px;height:29.01px;background:#f3f1f1;"></div>
<div style="position:absolute;left:364.76px;top:499.79px;width:1.01px;height:29.01px;background:#f3f1f1;"></div>
<div style="position:absolute;left:535.33px;top:499.79px;width:1.01px;height:29.01px;background:#f3f1f1;"></div>
<div style="position:absolute;left:596.83px;top:499.79px;width:1.01px;height:29.01px;background:#f3f1f1;"></div>
<div style="position:absolute;left:636.81px;top:499.79px;width:1.01px;height:29.01px;background:#f3f1f1;"></div>
<div style="position:absolute;left:683.38px;top:499.79px;width:1.01px;height:29.01px;background:#f3f1f1;"></div>
<div style="position:absolute;left:731.72px;top:499.79px;width:1.01px;height:29.01px;background:#f3f1f1;"></div>
<div style="position:absolute;left:773.47px;top:499.79px;width:1.01px;height:29.01px;background:#f3f1f1;"></div>
<div style="position:absolute;left:817.00px;top:499.79px;width:1.01px;height:29.01px;background:#f3f1f1;"></div>
<div style="position:absolute;right:697.52px;top:504.82px;white-space:nowrap;font-size:8.35px;line-height:1;color:#333;font-weight:normal;">30/04/2019</div>
<div style="position:absolute;left:161.59px;top:504.82px;white-space:nowrap;font-size:8.35px;line-height:1;color:#333;font-weight:normal;">admin</div>
<div style="position:absolute;left:191.45px;top:506.30px;width:8.86px;height:5.33px;"><svg width="100%" height="100%" viewBox="0 0 14 10" preserveAspectRatio="none"><g fill="#333"><rect x="4.500" y="0" width="9.500" height="7"/><path d="M0 7 V3.500 L2 1.200 H4.500 V7 Z"/><circle cx="3.200" cy="8" r="1.900"/><circle cx="10.800" cy="8" r="1.900"/></g></svg></div>
<div style="position:absolute;left:204.35px;top:504.82px;white-space:nowrap;font-size:8.35px;line-height:1;color:#333;font-weight:normal;">SHIP</div>
<div style="position:absolute;left:240.53px;top:505.51px;width:41.75px;height:9.08px;background:#8e4f8e;border-radius:1.6px;"></div>
<div style="position:absolute;left:261.42px;width:0;display:flex;justify-content:center;top:506.81px;height:6.70px;"><span style="white-space:nowrap;font-size:6.70px;line-height:1;color:#fff;font-weight:bold;">Thành công</span></div>
<div style="position:absolute;left:240.34px;top:516.37px;width:42.24px;height:9.07px;background:#16c45c;border-radius:1.6px;"></div>
<div style="position:absolute;left:261.47px;width:0;display:flex;justify-content:center;top:517.67px;height:6.70px;"><span style="white-space:nowrap;font-size:6.70px;line-height:1;color:#fff;font-weight:bold;">Đã Hoàn Tất</span></div>
<div style="position:absolute;left:327.83px;width:0;display:flex;justify-content:center;top:504.82px;height:8.35px;"><span style="white-space:nowrap;font-size:8.35px;line-height:1;color:#3f86b8;font-weight:normal;">anh chiến</span></div>
<div style="position:absolute;left:327.87px;width:0;display:flex;justify-content:center;top:515.48px;height:8.35px;"><span style="white-space:nowrap;font-size:8.35px;line-height:1;color:#333;font-weight:normal;">0977000000</span></div>
<div style="position:absolute;left:368.32px;top:504.82px;white-space:nowrap;font-size:8.35px;line-height:1;color:#333;font-weight:normal;">197 trần phú phường văn quán , , , TP Hà</div>
<div style="position:absolute;left:368.34px;top:515.48px;white-space:nowrap;font-size:8.35px;line-height:1;color:#333;font-weight:normal;">Đông</div>
<div style="position:absolute;right:256.23px;top:504.82px;white-space:nowrap;font-size:8.35px;line-height:1;color:#333;font-weight:normal;">1/599,000</div>
<div style="position:absolute;right:216.00px;top:504.82px;white-space:nowrap;font-size:8.35px;line-height:1;color:#333;font-weight:normal;">599,000</div>
<div style="position:absolute;right:169.19px;top:504.82px;white-space:nowrap;font-size:8.35px;line-height:1;color:#333;font-weight:normal;">0</div>
<div style="position:absolute;right:121.87px;top:504.82px;white-space:nowrap;font-size:8.35px;line-height:1;color:#333;font-weight:normal;">0</div>
<div style="position:absolute;right:79.36px;top:504.82px;white-space:nowrap;font-size:8.35px;line-height:1;color:#333;font-weight:normal;">0</div>
<div style="position:absolute;right:36.86px;top:504.82px;white-space:nowrap;font-size:8.35px;line-height:1;color:#333;font-weight:normal;">0</div>
<div style="position:absolute;left:820.75px;top:504.13px;width:15.18px;height:12.83px;background:#f3bd30;border-radius:1.6px;"></div>
<div style="position:absolute;left:823.01px;top:506.11px;width:10.63px;height:8.88px;"><svg width="100%" height="100%" viewBox="0 0 12 12" preserveAspectRatio="none"><path d="M9.600 6.400 V8.300 Q9.600 10.400 7.500 10.400 H4.100 Q2 10.400 2 8.300 V4.900 Q2 2.800 4.100 2.800 H6" fill="none" stroke="#fff" stroke-width="1.600"/><path d="M5.200 7.300 L5.600 5.600 L9.300 1.700 L10.600 3 L6.900 6.900 Z" fill="#fff"/></svg></div>
<div style="position:absolute;left:754.19px;top:382.32px;width:29.70px;height:9.34px;border:1px solid #bdeedb;border-radius:4px 3px 5px 5px;"></div>
</div>
<svg style="position:absolute;left:0;top:0" width="1000" height="653" viewBox="0 0 1000 653">
<defs>
<clipPath id="pc"><path d="M81.20 82.00 L265.00 82.40 C284.16 82.40 299.70 100.13 299.70 122.00 L299.60 165.60 Q299.60 167.20 297.90 167.40 L297.50 168.50 L297.20 566.40 C297.20 582.42 284.22 595.40 268.20 595.40 L70.20 595.40 C54.18 595.40 41.50 582.42 41.50 566.40 L47.20 116.00 C47.20 97.22 62.42 82.00 81.20 82.00 Z"/></clipPath>
<linearGradient id="pg" x1="0" y1="0" x2="0.5" y2="1"><stop offset="0" stop-color="#f3f4fa"/><stop offset="1" stop-color="#dfe1ec"/></linearGradient>
<linearGradient id="pg2" x1="0" y1="0" x2="0.55" y2="1"><stop offset="0" stop-color="#eeeff7"/><stop offset="0.5" stop-color="#e6e8f1"/><stop offset="1" stop-color="#dadce7"/></linearGradient>
</defs>
<path d="M69 595.500 H270" stroke="#a3a5b4" stroke-width="1.3"/>
<path d="M81.20 82.00 L265.00 82.40 C284.16 82.40 299.70 100.13 299.70 122.00 L299.60 165.60 Q299.60 167.20 297.90 167.40 L297.50 168.50 L297.20 566.40 C297.20 582.42 284.22 595.40 268.20 595.40 L70.20 595.40 C54.18 595.40 41.50 582.42 41.50 566.40 L47.20 116.00 C47.20 97.22 62.42 82.00 81.20 82.00 Z" fill="url(#pg)"/>
<path d="M51.47 116.00 C51.65 99.43 65.23 86.02 81.80 86.05 L263.60 86.35 C280.72 86.38 294.55 100.28 294.49 117.40 L292.89 565.00 C292.84 578.81 281.61 590.00 267.80 590.00 L71.20 590.00 C57.39 590.00 46.32 578.81 46.48 565.00 Z" fill="url(#pg2)" stroke="#dcdeea" stroke-width="0.8"/>
<path d="M147.300 112 V110.400 Q147.300 108.600 149.400 108.600 H185 Q187.100 108.600 187.100 110.400 V112" fill="none" stroke="#d5d7e3" stroke-width="0.9"/>
<rect x="202" y="136.400" width="24" height="1.800" fill="#b4b5bb"/>
<path d="M297.1 548 V566.4 C297.100 582.400 284 594.600 268 595" fill="none" stroke="#f6f7fc" stroke-width="1.1"/>
<circle cx="167" cy="564.6" r="17.4" fill="#e2e4ef" stroke="#cfd1df" stroke-width="1"/>
<path d="M153 574.500 A17.400 17.400 0 0 0 181 574.500" fill="none" stroke="#f6f7fd" stroke-width="1.2"/>
</svg>
<div style="position:absolute;left:0;top:0;width:245.00px;height:399.30px;overflow:hidden;background:#ecf0f5;transform-origin:0 0;transform:matrix3d(0.91959184,0,0,0,-0.0096377086,0.99880656,0,-2.221182e-06,0,0,1,0,58.3,138,0,1);">
<div style="position:absolute;left:-4.68px;top:-0.00px;width:250.11px;height:22.22px;background:#367fa9;"></div>
<div style="position:absolute;left:124.26px;width:0;display:flex;justify-content:center;top:5.73px;height:9.80px;"><span style="white-space:nowrap;font-size:9.80px;line-height:1;color:#fff;font-weight:normal;transform:scaleX(0.950);transform-origin:50% 0;">Trust Sales</span></div>
<div style="position:absolute;left:-4.45px;top:22.02px;width:250.10px;height:22.62px;background:#3c8dbc;"></div>
<div style="position:absolute;left:6.95px;top:30.63px;width:5.65px;height:1.00px;background:#fff;"></div>
<div style="position:absolute;left:6.97px;top:32.53px;width:5.65px;height:1.00px;background:#fff;"></div>
<div style="position:absolute;left:6.99px;top:34.43px;width:5.65px;height:1.00px;background:#fff;"></div>
<div style="position:absolute;left:19.24px;top:29.88px;white-space:nowrap;font-size:7.30px;line-height:1;color:#fff;font-weight:bold;transform:scaleX(0.960);transform-origin:0 0;">Công nợ Nhà vận chuyển</div>
<div style="position:absolute;left:230.04px;top:26.42px;width:11.09px;height:11.41px;"><svg width="100%" height="100%" viewBox="0 0 30 30" preserveAspectRatio="none"><circle cx="15" cy="15" r="15" fill="#fff"/><circle cx="15" cy="11" r="5.800" fill="#1a1a1a"/><path d="M4.500 26 C4.500 18.500 9 17 15 17 C21 17 25.500 18.500 25.500 26 C22 29 8 29 4.500 26Z" fill="#1a1a1a"/></svg></div>
<div style="position:absolute;left:7.28px;top:51.64px;width:234.53px;height:40.42px;background:#a0cf6f;border-radius:1px;"></div>
<div style="position:absolute;left:7.28px;top:51.64px;width:41.86px;height:40.42px;background:#80a659;border-radius:1px 0 0 1px;"></div>
<div style="position:absolute;left:19.06px;top:61.35px;width:18.48px;height:21.01px;"><svg width="100%" height="100%" viewBox="0 0 20 24" preserveAspectRatio="none"><g fill="#fff">
<path d="M2.200 2.600 Q5.800 0.400 10 0 L10.600 9.800 Q9.600 11.800 8.200 10.400 Z"/>
<path d="M0.600 11.500 Q1 9.500 2 8.600 L8 11.800 Q8.600 13.500 7 13.800 L1 14.500 Q0.400 13 0.600 11.500Z"/>
<path d="M12.500 11.600 L17 7.600 Q19 9.500 19.500 12 L13.200 13.600 Q11.500 13.200 12.500 11.600Z"/>
<path d="M13 15.200 L19.300 17 Q18.800 20 16.600 21.800 L12 17 Q11.600 15.300 13 15.200Z"/>
<path d="M8.600 15.800 Q10.300 15.600 10.500 17 L10.300 24 Q7.500 23.800 5.200 22.200 L8.600 15.800Z"/></g></svg></div>
<div style="position:absolute;left:54.18px;top:55.30px;white-space:nowrap;font-size:6.50px;line-height:1;color:#fff;font-weight:normal;">TỔNG</div>
<div style="position:absolute;left:54.28px;top:63.94px;white-space:nowrap;font-size:8.50px;line-height:1;color:#fff;font-weight:bold;">422,283,000(914)</div>
<div style="position:absolute;left:49.39px;top:76.65px;width:192.66px;height:1.00px;background:rgba(255,255,255,0.75);"></div>
<div style="position:absolute;left:54.45px;top:80.80px;white-space:nowrap;font-size:6.60px;line-height:1;color:#fff;font-weight:normal;">Cước: 68,487,210 VNĐ</div>
<div style="position:absolute;left:7.33px;top:98.87px;width:234.51px;height:40.41px;background:#f0526a;border-radius:1px;"></div>
<div style="position:absolute;left:7.33px;top:98.87px;width:41.86px;height:40.41px;background:#c04255;border-radius:1px 0 0 1px;"></div>
<div style="position:absolute;left:18.59px;top:110.07px;width:19.57px;height:18.01px;"><svg width="100%" height="100%" viewBox="0 0 20 20" preserveAspectRatio="none"><polygon points="12.59,0.34 13.85,3.33 17.07,2.93 16.67,6.15 19.66,7.41 17.70,10.00 19.66,12.59 16.67,13.85 17.07,17.07 13.85,16.67 12.59,19.66 10.00,17.70 7.41,19.66 6.15,16.67 2.93,17.07 3.33,13.85 0.34,12.59 2.30,10.00 0.34,7.41 3.33,6.15 2.93,2.93 6.15,3.33 7.41,0.34 10.00,2.30" fill="#fff" stroke="#fff" stroke-width="0.5" stroke-linejoin="round"/></svg></div>
<div style="position:absolute;left:54.23px;top:102.52px;white-space:nowrap;font-size:6.50px;line-height:1;color:#fff;font-weight:normal;">THÀNH CÔNG</div>
<div style="position:absolute;left:54.32px;top:111.17px;white-space:nowrap;font-size:8.50px;line-height:1;color:#fff;font-weight:bold;">322,399,000 (694)</div>
<div style="position:absolute;left:49.43px;top:123.28px;width:192.64px;height:1.10px;background:rgba(0,0,0,0.2);"></div>
<div style="position:absolute;left:49.43px;top:123.28px;width:146.21px;height:1.10px;background:#fff;"></div>
<div style="position:absolute;left:54.49px;top:128.02px;white-space:nowrap;font-size:6.60px;line-height:1;color:#fff;font-weight:normal;">75.9%</div>
<div style="position:absolute;left:7.27px;top:145.98px;width:234.48px;height:40.41px;background:#f3c238;border-radius:1px;"></div>
<div style="position:absolute;left:7.27px;top:145.98px;width:41.85px;height:40.41px;background:#c29b2d;border-radius:1px 0 0 1px;"></div>
<div style="position:absolute;left:19.60px;top:155.68px;width:17.39px;height:21.00px;"><svg width="100%" height="100%" viewBox="0 0 20 28" preserveAspectRatio="none"><g fill="#fff"><rect x="0" y="0" width="20" height="3" rx="0.6"/><rect x="0" y="25.200" width="20" height="2.800" rx="0.6"/>
<path d="M1.700 3 H18.300 C18.300 9 15 11.500 13 14 C15 16.500 18.300 19 18.300 25.200 H1.700 C1.700 19 5 16.500 7 14 C5 11.500 1.700 9 1.700 3 Z M4.200 3 H15.800 C15.700 5 15.300 6.500 14.800 7.700 H5.200 C4.700 6.500 4.300 5 4.200 3 Z M10 15 C11.500 16.500 14 18.500 15 20.800 H5 C6 18.500 8.500 16.500 10 15 Z" fill-rule="evenodd"/></g></svg></div>
<div style="position:absolute;left:54.17px;top:149.64px;white-space:nowrap;font-size:6.50px;line-height:1;color:#fff;font-weight:normal;">CHƯA CÓ KQ</div>
<div style="position:absolute;left:54.26px;top:158.28px;white-space:nowrap;font-size:8.50px;line-height:1;color:#fff;font-weight:bold;">22,759,000 (52)</div>
<div style="position:absolute;left:49.37px;top:170.39px;width:192.62px;height:1.10px;background:rgba(0,0,0,0.2);"></div>
<div style="position:absolute;left:49.37px;top:170.39px;width:10.98px;height:1.10px;background:#fff;"></div>
<div style="position:absolute;left:54.43px;top:175.13px;white-space:nowrap;font-size:6.60px;line-height:1;color:#fff;font-weight:normal;">5.7%</div>
<div style="position:absolute;left:7.33px;top:193.69px;width:234.46px;height:40.40px;background:#7b797e;border-radius:1px;"></div>
<div style="position:absolute;left:7.33px;top:193.69px;width:41.85px;height:40.40px;background:#626065;border-radius:1px 0 0 1px;"></div>
<div style="position:absolute;left:17.71px;top:204.59px;width:21.30px;height:18.60px;"><svg width="100%" height="100%" viewBox="0 0 24 26" preserveAspectRatio="none"><g fill="#fff">
<path d="M13 0.900 L5.200 9.800 L13 19 V14.200 C17.500 14.200 20 17 20.600 26 C24.500 19 24.500 6.200 13 5.400 Z"/>
<path d="M8.600 0.400 L0 9.800 L8.600 19.300 V15.600 L3.700 9.800 L8.600 4 Z"/></g></svg></div>
<div style="position:absolute;left:54.22px;top:197.34px;white-space:nowrap;font-size:6.50px;line-height:1;color:#fff;font-weight:normal;">CHUYỂN HOÀN</div>
<div style="position:absolute;left:54.31px;top:205.98px;white-space:nowrap;font-size:8.50px;line-height:1;color:#fff;font-weight:bold;">77,125,000 (168)</div>
<div style="position:absolute;left:49.43px;top:218.09px;width:192.60px;height:1.10px;background:rgba(0,0,0,0.2);"></div>
<div style="position:absolute;left:49.43px;top:218.09px;width:35.44px;height:1.10px;background:#fff;"></div>
<div style="position:absolute;left:54.48px;top:222.83px;white-space:nowrap;font-size:6.60px;line-height:1;color:#fff;font-weight:normal;">18.4%</div>
<div style="position:absolute;left:7.16px;top:240.08px;width:234.98px;height:166.91px;background:#fff;"></div>
<div style="position:absolute;left:7.16px;top:240.08px;width:234.98px;height:21.99px;background:#fbfcfd;"></div>
<div style="position:absolute;left:15.30px;top:248.50px;white-space:nowrap;font-size:7.60px;line-height:1;color:#333;font-weight:normal;">Tìm Kiếm</div>
<div style="position:absolute;left:14.01px;top:271.28px;white-space:nowrap;font-size:6.10px;line-height:1;color:#333;font-weight:bold;">Giao hàng</div>
<div style="position:absolute;left:14.09px;top:280.17px;width:198.66px;height:15.09px;border:1px solid #dcdfe7;background:#fff;"></div>
<div style="position:absolute;left:19.58px;top:284.84px;white-space:nowrap;font-size:6.40px;line-height:1;color:#555;font-weight:normal;">-- Tất Cả --</div>
<div style="position:absolute;left:205.42px;top:285.87px;white-space:nowrap;font-size:4.60px;line-height:1;color:#555;font-weight:normal;">&#9660;</div>
<div style="position:absolute;left:13.90px;top:303.47px;white-space:nowrap;font-size:6.10px;line-height:1;color:#333;font-weight:bold;">Chọn Trạng Thái</div>
<div style="position:absolute;left:13.99px;top:312.66px;width:198.65px;height:14.99px;border:1px solid #dcdfe7;border-bottom:none;background:#fff;"></div>
<div style="position:absolute;left:19.48px;top:317.63px;white-space:nowrap;font-size:6.40px;line-height:1;color:#555;font-weight:normal;">-- Không chọn --</div>
<div style="position:absolute;left:205.31px;top:318.46px;white-space:nowrap;font-size:4.60px;line-height:1;color:#555;font-weight:normal;">&#9660;</div>
<div style="position:absolute;left:13.81px;top:336.05px;white-space:nowrap;font-size:6.10px;line-height:1;color:#333;font-weight:bold;">Ngày Chuyển</div>
<div style="position:absolute;left:13.89px;top:344.64px;width:219.93px;height:15.19px;border:1px solid #dcdfe7;background:#fff;"></div>
<div style="position:absolute;left:20.03px;top:349.78px;white-space:nowrap;font-size:6.60px;line-height:1;color:#555;font-weight:normal;">01/04/2019 - 30/04/2019</div>
<div style="position:absolute;left:13.71px;top:368.43px;white-space:nowrap;font-size:6.10px;line-height:1;color:#333;font-weight:bold;">Thông tin</div>
<div style="position:absolute;left:13.79px;top:377.22px;width:220.13px;height:15.59px;border:1px solid #dcdfe7;background:#fff;"></div>
<div style="position:absolute;left:20.37px;top:382.18px;white-space:nowrap;font-size:6.40px;line-height:1;color:#aaa;font-weight:normal;">Tìm Kiếm</div>
<div style="position:absolute;left:14.17px;top:288.27px;width:8.69px;height:5.60px;border:1px solid #d5d8e0;background:#fff;"></div>
<div style="position:absolute;left:160.24px;top:398.20px;width:26.08px;height:1.20px;background:#b4b5bb;"></div>
</div>
</body></html>
